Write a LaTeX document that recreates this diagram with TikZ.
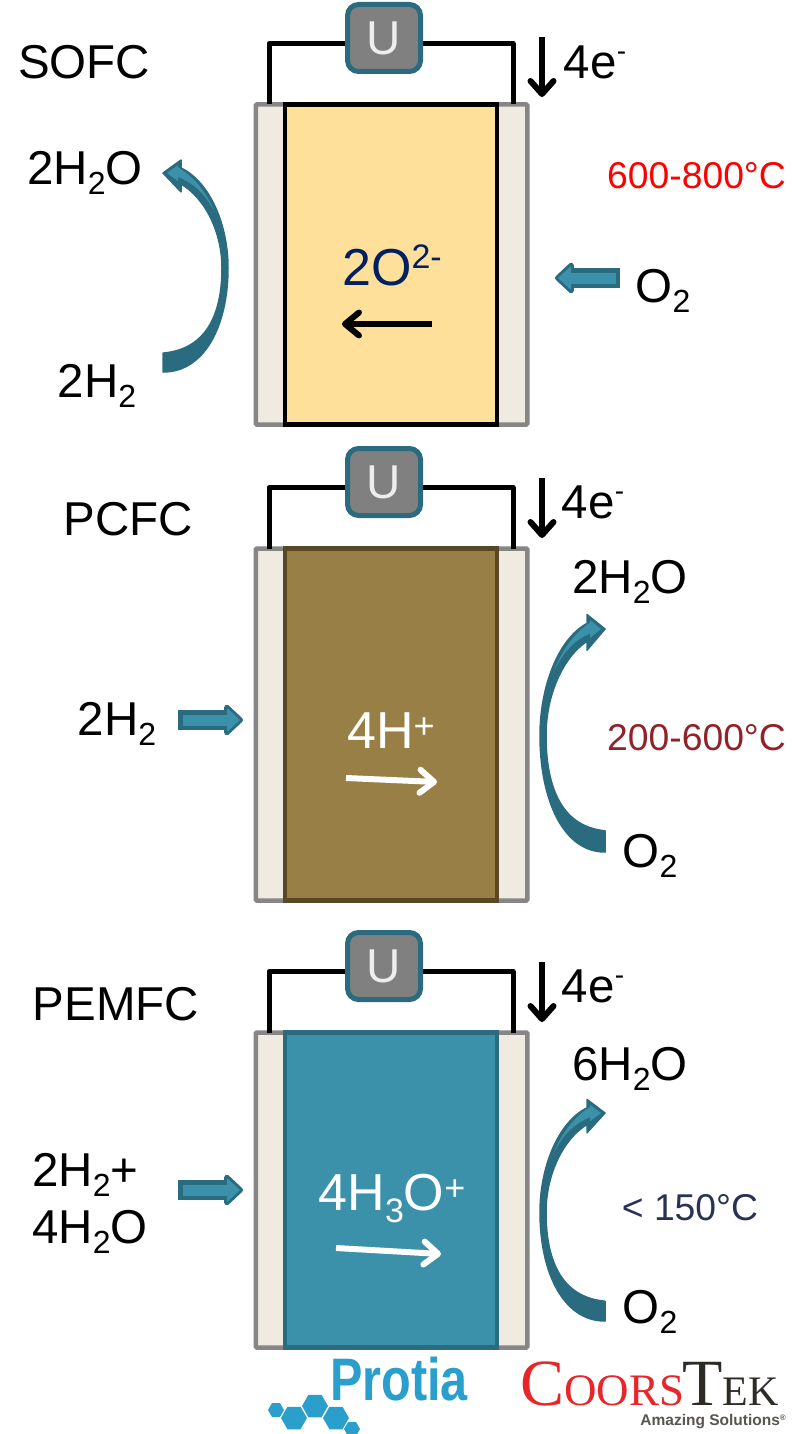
\documentclass[tikz,border=0pt]{standalone}
\usepackage{fontspec}
\setmainfont{Liberation Sans}
\usepackage{tikz}
\usetikzlibrary{arrows.meta}
\usetikzlibrary{calc}
\usetikzlibrary{shapes.geometric}

\definecolor{flowdark}{HTML}{2A6B80}
\definecolor{flowlight}{HTML}{3B91A9}
\definecolor{platefill}{HTML}{F0EBE0}
\definecolor{plateline}{HTML}{868686}
\definecolor{sofcfill}{HTML}{FFE09B}
\definecolor{pcfcfill}{HTML}{977F45}
\definecolor{pcfcline}{HTML}{5A4726}
\definecolor{ionblue}{HTML}{002060}
\definecolor{tempbrown}{HTML}{912328}
\definecolor{tempnavy}{HTML}{283255}
\definecolor{protiablue}{HTML}{2A9FCC}
\definecolor{coorsred}{HTML}{E8262A}
\definecolor{coorsdark}{HTML}{2E2A26}

\newcommand{\biglabel}{\fontsize{47.5}{50}\selectfont}
\newcommand{\ionlabel}{\fontsize{52}{54}\selectfont}
\newcommand{\lowtxt}[1]{\raisebox{-10pt}{\fontsize{32}{32}\selectfont #1}}
\newcommand{\hightxt}[1]{\raisebox{18pt}{\fontsize{28}{28}\selectfont #1}}
\newcommand{\lowion}[1]{\raisebox{-12pt}{\fontsize{34}{34}\selectfont #1}}
\newcommand{\highion}[1]{\raisebox{17pt}{\fontsize{34}{34}\selectfont #1}}
\newcommand{\highplus}{\raisebox{10pt}{\fontsize{36}{36}\selectfont +}}
\newcommand{\swoop}[3]{
	\filldraw[swoopline] let \p1=(#1), \p2=(#2), \n1={\y2-\y1} in
	(\x1,\y1) .. controls ({\x1+#3*42pt},\y1) and ({\x1+#3*65pt},{\y1+.236*\n1}) .. ({\x1+#3*65pt},{\y1+.523*\n1})
	.. controls ({\x1+#3*65pt},{\y1+.739*\n1}) and ({\x1+#3*47pt},{\y1+.955*\n1}) .. ({\x1+#3*18pt},{\y1+1.025*\n1})
	-- ({\x1+#3*18pt},{\y1+1.065*\n1}) -- (\x2,\y2) -- ({\x1+#3*18pt},{\y1+.905*\n1}) -- ({\x1+#3*18pt},{\y1+.945*\n1})
	.. controls ({\x1+#3*42pt},{\y1+.874*\n1}) and ({\x1+#3*59pt},{\y1+.704*\n1}) .. ({\x1+#3*59pt},{\y1+.523*\n1})
	.. controls ({\x1+#3*59pt},{\y1+.31*\n1}) and ({\x1+#3*46pt},{\y1+.115*\n1}) .. (\x1,{\y1+.095*\n1}) -- cycle;
	\fill[flowlight] let \p1=(#1), \p2=(#2), \n1={\y2-\y1} in
	({\x1+#3*4pt},{\y1+1.0*\n1}) -- ({\x1+#3*15pt},{\y1+1.04*\n1}) -- ({\x1+#3*15pt},{\y1+.96*\n1}) -- cycle
	({\x1+#3*15pt},{\y1+1.03*\n1}) .. controls ({\x1+#3*30pt},{\y1+.98*\n1}) and ({\x1+#3*42pt},{\y1+.92*\n1}) .. ({\x1+#3*52pt},{\y1+.80*\n1})
	.. controls ({\x1+#3*42pt},{\y1+.90*\n1}) and ({\x1+#3*30pt},{\y1+.95*\n1}) .. ({\x1+#3*15pt},{\y1+.98*\n1}) -- cycle;
}

\begin{document}
\begin{tikzpicture}
		[x=1pt,y=-1pt,inner sep=0pt,
		plate/.style={rectangle,draw=plateline,fill=platefill,line width=4.5,rounded corners=1,minimum width=271.5},
		core/.style={rectangle,line width=4.5,minimum width=212},
		meter/.style={rectangle,draw=flowdark,fill=black!50,line width=5,rounded corners=11,minimum width=73,minimum height=67,text=black!7,font=\biglabel},
		wire/.style={draw=black,line width=5,line join=round},
		electron/.style={draw=black,line width=6,-{Straight Barb[length=13,width=23,round]}},
		ion/.style={line width=6,-{Straight Barb[length=14,width=23,round]}},
		feed/.style={draw=flowdark,line width=20,-{Triangle[length=20,width=36,round]},
			postaction={draw=flowlight,line width=11,shorten <=4.5,shorten >=3,-{Triangle[length=13,width=23]}}},
		swoopline/.style={draw=flowdark,fill=flowdark,line width=1.5,line join=round},
		label/.style={font=\biglabel,text=black,anchor=base},
		temp/.style={font=\fontsize{37.3}{40}\selectfont,anchor=center},
		ionname/.style={font=\ionlabel,anchor=base}]

		\useasboundingbox (0,0) rectangle (794,1434);

		% one cell per row: name/centre/height/fill/line/U
		\foreach \n/\cy/\h/\fc/\lc/\uy in
		{s/264.5/320/sofcfill/black/38, p/724.5/352/pcfcfill/pcfcline/482, e/1190/315/flowlight/flowdark/966}
		{
		\node[plate,minimum height=\h] (pl\n) at (391.5,\cy) {};
		\node[core,draw=\lc,fill=\fc,minimum height=\h] (c\n) at (391,\cy) {};
		\coordinate (wl\n) at (269,\cy-\h/2);
		\coordinate (wr\n) at (513,\cy-\h/2);
		\node[meter] (u\n) at (384,\uy) {U};
		\draw[wire] (wl\n) |- ([yshift=-5.5]u\n.west);
		\draw[wire] (wr\n) |- ([yshift=-5.5]u\n.east);
		}

		\node[label] (tsofc) at (84,79) {SOFC};
		\node[label] (tpcfc) at (128,535) {PCFC};
		\node[label] (tpem) at (116,1020) {PEMFC};

		\node[label] (es) at (595,79) {4e\hightxt{-}};
		\node[label] (ep) at (593,518) {4e\hightxt{-}};
		\node[label] (ee) at (593,1002) {4e\hightxt{-}};
		\coordinate (esa) at (542,37);
		\coordinate (esb) at (542,97);
		\coordinate (epa) at (542,478);
		\coordinate (epb) at (542,538);
		\coordinate (eea) at (542,962);
		\coordinate (eeb) at (542,1022);

		% gases
		\node[label] (wats) at (85,185) {2H\lowtxt{2}O};
		\node[label] (hyds) at (97,397) {2H\lowtxt{2}};
		\node[label] (oxs) at (663,302) {O\lowtxt{2}};
		\node[label] (hydp) at (117,735) {2H\lowtxt{2}};
		\node[label] (watp) at (630,593) {2H\lowtxt{2}O};
		\node[label] (oxp) at (650,867) {O\lowtxt{2}};
		\node[label,anchor=base west] (hydea) at (32,1186) {2H\lowtxt{2}+};
		\node[label,anchor=base west] (hydeb) at (32,1243) {4H\lowtxt{2}O};
		\node[label] (wate) at (630,1080) {6H\lowtxt{2}O};
		\node[label] (oxe) at (650,1323) {O\lowtxt{2}};

		% ions
		\node[ionname,text=ionblue] (ions) at (392,285) {2O\highion{2-}};
		\node[ionname,text=white] (ionp) at (391,748) {4H\highplus};
		\node[ionname,text=white] (ione) at (392,1210) {4H\lowion{3}O\highplus};
		\coordinate (ionsa) at (432,324);
		\coordinate (ionsb) at (342,324);
		\coordinate (ionpa) at (346,778);
		\coordinate (ionpb) at (437,782);
		\coordinate (ionea) at (336,1248);
		\coordinate (ioneb) at (441,1254);

		% temperatures
		\node[temp,text=red] (temps) at (696.5,176) {600-800°C};
		\node[temp,text=tempbrown] (tempp) at (696.5,738) {200-600°C};
		\node[temp,text=tempnavy] (tempe) at (690,1208) {< 150°C};

		\foreach \from/\to in
		{esa/esb, epa/epb, eea/eeb}
		\draw[electron] (\from) -- (\to);

		\foreach \from/\to/\col in
		{ionsa/ionsb/black, ionpa/ionpb/white, ionea/ioneb/white}
		\draw[ion,draw=\col] (\from) -- (\to);

		% block arrows
		\coordinate (fsa) at (620,278);
		\coordinate (fsb) at (555,278);
		\coordinate (fpa) at (178,720);
		\coordinate (fpb) at (243,720);
		\coordinate (fea) at (178,1190);
		\coordinate (feb) at (243,1190);
		\foreach \from/\to in
		{fsa/fsb, fpa/fpb, fea/feb}
		\draw[feed] (\from) -- (\to);

		\coordinate (swsa) at (163,372);
		\coordinate (swsb) at (163,173);
		\coordinate (swpa) at (605,852);
		\coordinate (swpb) at (605,629);
		\coordinate (swea) at (605,1321);
		\coordinate (sweb) at (605,1113);
		\swoop{swsa}{swsb}{1}
		\swoop{swpa}{swpb}{-1}
		\swoop{swea}{sweb}{-1}

		% logos
		\node[anchor=base west,font=\fontsize{60}{60}\selectfont\bfseries,text=protiablue] (protia) at (330,1400) {\scalebox{.81}[1]{Protia}};
		\foreach \n/\x/\y/\r in
		{a/276/1410/8, b/294/1418/13, c/315/1406/13, d/336/1418/13, e/352/1429/8}
		\node[regular polygon,regular polygon sides=6,fill=protiablue,minimum size=2*\r] (hex\n) at (\x,\y) {};
		\node[anchor=base west,font=\fontspec{Liberation Serif},text=coorsred] (coors) at (520,1405)
		{\fontsize{66}{66}\selectfont C\fontsize{45}{45}\selectfont OORS\kern-2pt\textcolor{coorsdark}{\fontsize{66}{66}\selectfont T\fontsize{42}{42}\selectfont EK}};
		\node[anchor=base east,font=\fontsize{15.5}{16}\selectfont\bfseries,text=coorsdark!80] (amazing) at (786,1425) {Amazing Solutions\raisebox{5pt}{\fontsize{8}{8}\selectfont ®}};
		\end{tikzpicture}
\end{document}
